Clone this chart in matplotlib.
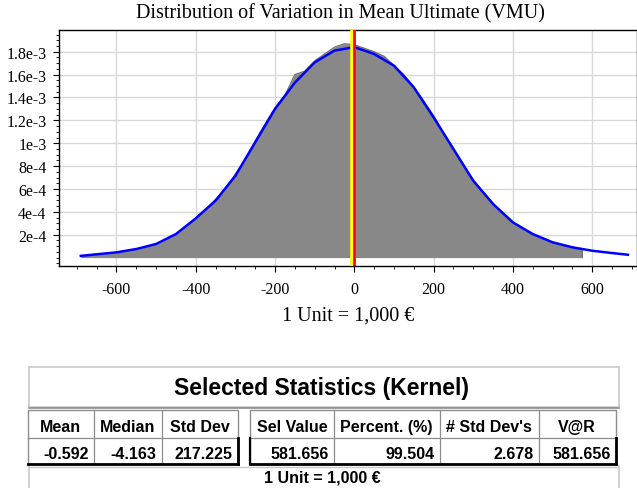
import matplotlib

matplotlib.use("Agg")
import matplotlib.pyplot as plt
from matplotlib.patches import Rectangle
from matplotlib.ticker import MultipleLocator

# kernel density curve (blue), y in units of 1e-4
kde_x = [-690, -650, -600, -550, -500, -450, -400, -350, -300, -250, -200, -150, -100, -50,
         0, 50, 100, 150, 200, 250, 300, 350, 400, 450, 500, 550, 600, 650, 690]
kde_y = [0.15, 0.29, 0.46, 0.75, 1.19, 2.06, 3.43, 4.98, 7.16, 10.08, 13.0, 15.3, 17.07, 18.1,
         18.4, 17.8, 16.78, 14.89, 12.26, 9.49, 6.72, 4.69, 3.08, 2.06, 1.34, 0.90, 0.60, 0.40, 0.25]

# simulated histogram (grey area), y in units of 1e-4
hist_x = [-690, -675, -650, -625, -600, -575, -550, -525, -500, -475, -450, -425, -400, -375,
          -350, -325, -300, -275, -250, -225, -200, -175, -150, -125, -100, -75, -50, -25,
          0, 25, 50, 75, 100, 125, 150, 175, 200, 225, 250, 275, 300, 325, 350, 375,
          400, 425, 450, 475, 500, 525, 550, 575]
hist_y = [0.15, 0.2, 0.29, 0.37, 0.46, 0.6, 0.75, 0.95, 1.2, 1.6, 2.06, 2.7, 3.45, 4.2,
          5.1, 6.0, 7.3, 8.6, 10.2, 11.7, 13.1, 14.2, 16.0, 16.3, 17.2, 17.8, 18.4, 18.7,
          18.6, 18.3, 18.0, 17.6, 16.8, 16.0, 14.9, 13.7, 12.4, 10.9, 9.5, 8.0, 6.8, 5.7, 4.7, 3.8,
          3.1, 2.5, 2.05, 1.7, 1.35, 1.1, 0.9, 0.75]

mean_val = -0.592
median_val = -4.163

x_ticks = [-600, -400, -200, 0, 200, 400, 600]
y_ticks = [2e-4, 4e-4, 6e-4, 8e-4, 1e-3, 1.2e-3, 1.4e-3, 1.6e-3, 1.8e-3]
y_tick_labels = ["2e-4", "4e-4", "6e-4", "8e-4", "1e-3", "1.2e-3", "1.4e-3", "1.6e-3", "1.8e-3"]

table_title = "Selected Statistics (Kernel)"
left_headers = ["Mean", "Median", "Std Dev"]
left_values = ["-0.592", "-4.163", "217.225"]
right_headers = ["Sel Value", "Percent. (%)", "# Std Dev's", "V@R"]
right_values = ["581.656", "99.504", "2.678", "581.656"]
unit_text = "1 Unit = 1,000 €"

W, H = 637, 489
fig = plt.figure(figsize=(W / 100, H / 100), dpi=100)

# ---- chart ----
ax = fig.add_axes([59 / W, 222 / H, 578 / W, 236 / H])
sc = 1e-4
ax.fill_between(hist_x + [hist_x[-1]], [v * sc for v in hist_y] + [0], 0,
                color="#888888", linewidth=0, zorder=2)
ax.plot(hist_x + [hist_x[-1]], [v * sc for v in hist_y] + [0], color="#6e6e6e", lw=0.9, zorder=3)
ax.plot(kde_x, [v * sc for v in kde_y], color="#0000ff", lw=1.8, zorder=4)
ax.axvline(median_val, color="#ffff00", lw=4, zorder=5)
ax.axvline(mean_val, color="#ff0000", lw=2, zorder=6)

ax.set_xlim(-745, 713)
ax.set_ylim(-0.734e-4, 19.9e-4)
ax.set_xticks(x_ticks)
ax.set_xticklabels([str(v) for v in x_ticks])
ax.set_yticks(y_ticks)
ax.set_yticklabels(y_tick_labels)
ax.xaxis.set_minor_locator(MultipleLocator(50))
ax.yaxis.set_minor_locator(MultipleLocator(5e-5))
ax.grid(True, which="major", color="#d8d8d8", lw=1, zorder=0)
ax.set_axisbelow(True)
ax.tick_params(axis="both", which="major", length=4, width=0.8, colors="black",
               labelsize=11.5, pad=5)
ax.tick_params(axis="x", which="major", pad=7)
ax.tick_params(axis="both", which="minor", length=2.5, width=0.6, colors="black")
for lab in ax.get_xticklabels() + ax.get_yticklabels():
    lab.set_family("Liberation Serif")
for sp in ax.spines.values():
    sp.set_color("black")
    sp.set_linewidth(1)
ax.set_xlabel(unit_text, family="Liberation Serif", fontsize=14.5, labelpad=6)
fig.text(340 / W, 1 - 14 / H, "Distribution of Variation in Mean Ultimate (VMU)",
         family="Liberation Serif", fontsize=14.5, ha="center", va="center")

# ---- statistics table, drawn in pixel coordinates ----
tab = fig.add_axes([0, 0, 1, 1])
tab.set_xlim(0, W)
tab.set_ylim(H, 0)
tab.axis("off")
sans = "Liberation Sans"
light = "#c8c8c8"
mid = "#8c8c8c"

# title box
tab.add_patch(Rectangle((28.5, 367.5), 590, 40, fill=False, ec=light, lw=1.2))
tab.text(322, 388, table_title, family=sans, weight="bold", fontsize=16.5,
         ha="center", va="center")
tab.plot([28.5, 618.5], [409, 409], color=mid, lw=1.2)

# footer box
tab.plot([28.5, 28.5], [467, 490], color=light, lw=1.2)
tab.plot([618.5, 618.5], [467, 490], color=light, lw=1.2)
tab.plot([28.5, 618.5], [467.5, 467.5], color=light, lw=1.0)
tab.text(322, 478, unit_text, family=sans, weight="bold", fontsize=11.5,
         ha="center", va="center")


def draw_group(edges, headers, values, left_dark=False):
    top, mid_y, bot = 410.5, 438.5, 465
    x0, x1 = edges[0], edges[-1]
    tab.add_patch(Rectangle((x0, top), x1 - x0, bot - top, fill=False, ec=mid, lw=1.0))
    tab.plot([x0, x1], [mid_y, mid_y], color=mid, lw=0.9)
    for e in edges[1:-1]:
        tab.plot([e, e], [top, bot], color=mid, lw=0.9)
    tab.plot([x0, x1], [bot, bot], color="black", lw=2)
    tab.plot([x1, x1], [mid_y, bot], color="black", lw=2)
    if left_dark:
        tab.plot([x0, x0], [mid_y, bot], color="black", lw=1.6)
    for a, b, h, v in zip(edges[:-1], edges[1:], headers, values):
        tab.text((a + b) / 2, 427.5, h, family=sans, weight="bold", fontsize=11.5,
                 ha="center", va="center")
        tab.text(b - 5, 454.5, v, family=sans, weight="bold", fontsize=11.5,
                 ha="right", va="center")


draw_group([28, 93.5, 161.5, 237.5], left_headers, left_values)
draw_group([250, 334, 439.5, 538.5, 615.5], right_headers, right_values, left_dark=True)

fig.savefig("out.png", dpi=100)
